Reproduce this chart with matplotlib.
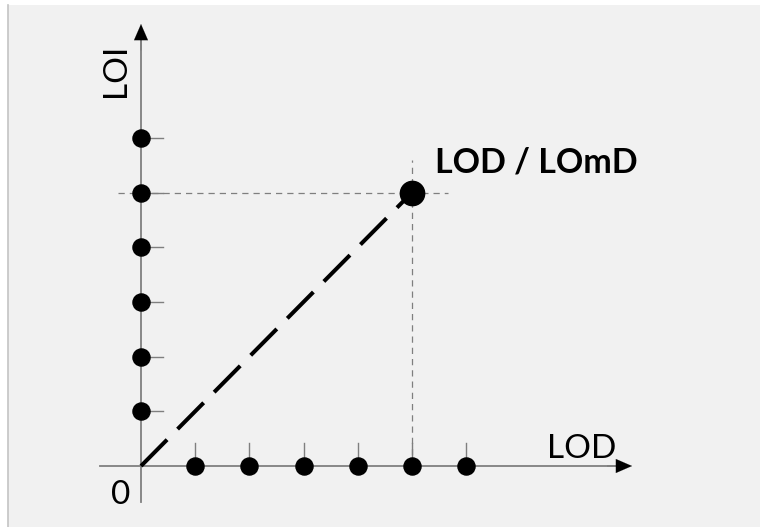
import matplotlib
matplotlib.use("Agg")
import matplotlib.pyplot as plt
from matplotlib.patches import Rectangle
from matplotlib.lines import Line2D

# data
x_points = [1, 2, 3, 4, 5, 6]
y_points = [1, 2, 3, 4, 5, 6]
lod_point = (5, 5)
x_label = "LOD"
y_label = "LOI"
point_label = "LOD / LOmD"
origin_label = "0"

plt.rcParams["font.family"] = ["Lato", "DejaVu Sans"]

fig = plt.figure(figsize=(7.6, 5.27), dpi=100)
fig.patch.set_facecolor("white")

# light gray panel with a thin border on the left
fig.patches.append(Rectangle((8 / 760, 0), 752 / 760, 522 / 527,
                             transform=fig.transFigure, facecolor="#f1f1f1",
                             edgecolor="none", zorder=-10))
fig.lines.append(Line2D([7.5 / 760, 7.5 / 760], [0, 522 / 527],
                        transform=fig.transFigure, color="#c4c4c4", lw=1.2,
                        zorder=-9))

ax = fig.add_axes([0, 0, 1, 1])
ax.set_facecolor("none")
ax.set_zorder(1)
ux, uy = 54.2, 54.7
ax.set_xlim(-141 / ux, (760 - 141) / ux)
ax.set_ylim(-(527 - 466) / uy, 466 / uy)
ax.axis("off")

axis_col = "#7f7f7f"
head = "-|>,head_length=1.15,head_width=0.5"

# axes with arrow heads
ax.plot([-0.76, 8.8], [0, 0], color=axis_col, lw=1.3, zorder=2)
ax.plot([0, 0], [-0.66, 7.8], color=axis_col, lw=1.3, zorder=2)
ax.annotate("", xy=(9.06, 0), xytext=(8.6, 0),
            arrowprops=dict(arrowstyle=head, color="black", lw=0.1,
                            shrinkA=0, shrinkB=0))
ax.annotate("", xy=(0, 8.08), xytext=(0, 7.6),
            arrowprops=dict(arrowstyle=head, color="black", lw=0.1,
                            shrinkA=0, shrinkB=0))

# ticks
for xv in x_points:
    ax.plot([xv, xv], [0, 0.42], color=axis_col, lw=1.0, zorder=2)
for yv in y_points:
    ax.plot([0, 0.41], [yv, yv], color=axis_col, lw=1.0, zorder=2)

# guide lines to the LOD point
ax.plot([-0.42, 5.66], [lod_point[1], lod_point[1]], color=axis_col, lw=0.9,
        dashes=(5, 4), zorder=2)
ax.plot([lod_point[0], lod_point[0]], [0, 5.59], color=axis_col, lw=0.9,
        dashes=(5, 4), zorder=2)

# diagonal dashed line from origin
ax.plot([0, lod_point[0]], [0, lod_point[1]], color="black", lw=2.9,
        dashes=(9.2, 3.7), solid_capstyle="butt", dash_capstyle="butt", zorder=3)

# dots on axes
ax.plot(x_points, [0] * len(x_points), "o", color="black", ms=12.3, zorder=4)
ax.plot([0] * len(y_points), y_points, "o", color="black", ms=12.3, zorder=4)
ax.plot([lod_point[0]], [lod_point[1]], "o", color="black", ms=17.5, zorder=5)

# labels
ax.text(7.49, 0.146, x_label, fontsize=24, va="baseline", ha="left")
ax.text(-0.46, 7.24, y_label, fontsize=24, rotation=90, va="center", ha="center")
ax.text(-0.55, -0.695, origin_label, fontsize=24, va="baseline", ha="left")
ax.text(5.42, 5.36, point_label, fontsize=24.5, fontweight="bold",
        va="baseline", ha="left")

fig.savefig("out.png", dpi=100)
